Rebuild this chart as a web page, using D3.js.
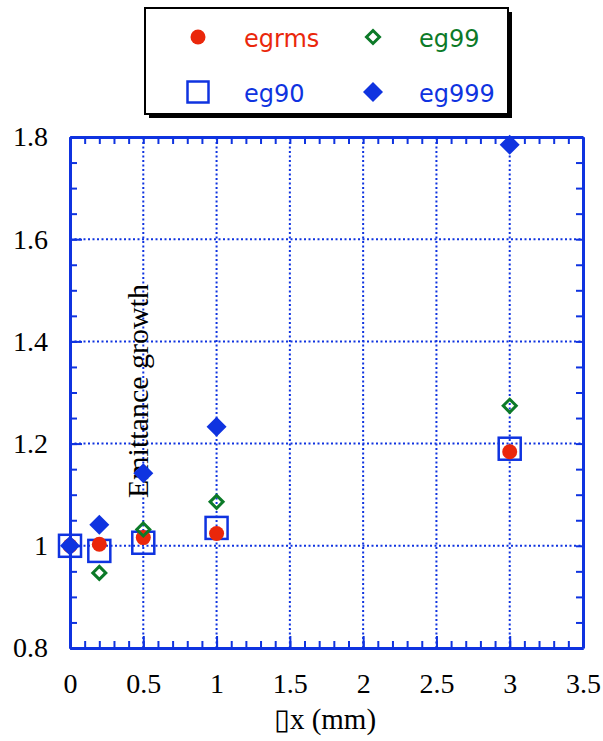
<!DOCTYPE html>
<html>
<head>
<meta charset="utf-8">
<script src="https://cdn.jsdelivr.net/npm/d3@7"></script>
<style>
  body { margin: 0; background: #fff; }
</style>
</head>
<body>
<figure style="margin:0"></figure>
<script>
// data
const xValues = [0, 0.2, 0.5, 1, 3];
const egrms = [1.0, 1.003, 1.016, 1.024, 1.184];
const eg90 = [1.0, 0.99, 1.006, 1.035, 1.19];
const eg99 = [1.0, 0.947, 1.032, 1.086, 1.274];
const eg999 = [1.0, 1.041, 1.142, 1.233, 1.785];

const xTicks = [0, 0.5, 1, 1.5, 2, 2.5, 3, 3.5];
const yTicks = [0.8, 1, 1.2, 1.4, 1.6, 1.8];
const xMinor = d3.range(0, 35.5, 1).map(d => d / 10);
const yMinor = d3.range(16, 36.5, 1).map(d => d / 20);

const blue = "#0f33e0";
const red = "#ea270b";
const green = "#0c7a28";

const width = 603, height = 741;
const x = d3.scaleLinear().domain([0, 3.5]).range([70, 583]);
const y = d3.scaleLinear().domain([0.8, 1.8]).range([648, 137]);

const svg = d3.select("figure").append("svg")
    .attr("width", width)
    .attr("height", height);

// dotted grid
svg.append("g").selectAll("line")
  .data(xTicks.filter(d => d > 0 && d < 3.5))
  .join("line")
    .attr("x1", d => x(d)).attr("x2", d => x(d))
    .attr("y1", y(0.8)).attr("y2", y(1.8))
    .attr("stroke", blue).attr("stroke-width", 2)
    .attr("stroke-dasharray", "2,2.5");
svg.append("g").selectAll("line")
  .data(yTicks.filter(d => d > 0.8 && d < 1.8))
  .join("line")
    .attr("y1", d => y(d)).attr("y2", d => y(d))
    .attr("x1", x(0)).attr("x2", x(3.5))
    .attr("stroke", blue).attr("stroke-width", 2)
    .attr("stroke-dasharray", "2,2.5");

// axes, ticks pointing inward
const styleAxis = g => {
  g.select(".domain").attr("stroke", blue).attr("stroke-width", 3);
  g.selectAll(".tick line").attr("stroke", blue).attr("stroke-width", 2);
  g.selectAll("text")
    .attr("fill", "#000")
    .style("font-family", "'Liberation Serif', 'Times New Roman', serif")
    .style("font-size", "28px");
};

const minorLen = 7, majorLen = 12;

// minor ticks
svg.append("g").attr("transform", `translate(0,${y(0.8)})`)
  .call(d3.axisBottom(x).tickValues(xMinor).tickSizeInner(-minorLen).tickSizeOuter(0).tickFormat(""))
  .call(styleAxis);
svg.append("g").attr("transform", `translate(0,${y(1.8)})`)
  .call(d3.axisTop(x).tickValues(xMinor).tickSizeInner(-minorLen).tickSizeOuter(0).tickFormat(""))
  .call(styleAxis);
svg.append("g").attr("transform", `translate(${x(0)},0)`)
  .call(d3.axisLeft(y).tickValues(yMinor).tickSizeInner(-minorLen).tickSizeOuter(0).tickFormat(""))
  .call(styleAxis);
svg.append("g").attr("transform", `translate(${x(3.5)},0)`)
  .call(d3.axisRight(y).tickValues(yMinor).tickSizeInner(-minorLen).tickSizeOuter(0).tickFormat(""))
  .call(styleAxis);

// major ticks with labels
svg.append("g").attr("transform", `translate(0,${y(0.8)})`)
  .call(d3.axisBottom(x).tickValues(xTicks).tickSizeInner(-majorLen).tickSizeOuter(0)
    .tickPadding(25).tickFormat(d => String(d)))
  .call(styleAxis);
svg.append("g").attr("transform", `translate(${x(0)},0)`)
  .call(d3.axisLeft(y).tickValues(yTicks).tickSizeInner(-majorLen).tickSizeOuter(0)
    .tickPadding(22).tickFormat(d => String(d)))
  .call(styleAxis);

// axis titles
svg.append("text")
    .attr("x", 325).attr("y", 729)
    .attr("text-anchor", "middle")
    .style("font-family", "'Liberation Serif', serif")
    .style("font-size", "29px")
    .text("\u25AFx (mm)");

svg.append("text")
    .attr("transform", "translate(148,391) rotate(-90)")
    .attr("text-anchor", "middle")
    .style("font-family", "'Liberation Serif', serif")
    .style("font-size", "30px")
    .text("Emittance growth");

// markers
const pts = vals => xValues.map((d, i) => ({x: d, y: vals[i]}));
const diamond = r => `M0,${-r}L${r},0L0,${r}L${-r},0Z`;

const drawSquare = (g, side) => g.append("rect")
    .attr("x", -side / 2).attr("y", -side / 2)
    .attr("width", side).attr("height", side)
    .attr("fill", "none").attr("stroke", blue).attr("stroke-width", 2.5);
const drawCircle = g => g.append("circle").attr("r", 7.5).attr("fill", red);
const drawOpenDiamond = g => g.append("path").attr("d", diamond(6.5))
    .attr("fill", "none").attr("stroke", green).attr("stroke-width", 3);
const drawFilledDiamond = g => g.append("path").attr("d", diamond(10)).attr("fill", blue);

const series = [
  {name: "eg90", vals: eg90, draw: g => drawSquare(g, 22)},
  {name: "egrms", vals: egrms, draw: drawCircle},
  {name: "eg99", vals: eg99, draw: drawOpenDiamond},
  {name: "eg999", vals: eg999, draw: drawFilledDiamond}
];

series.forEach(s => {
  svg.append("g").selectAll("g")
    .data(pts(s.vals))
    .join("g")
      .attr("transform", d => `translate(${x(d.x)},${y(d.y)})`)
      .each(function() { s.draw(d3.select(this)); });
});

// legend box with shadow
svg.append("rect").attr("x", 149).attr("y", 12).attr("width", 363).attr("height", 106).attr("fill", "#000");
svg.append("rect").attr("x", 145).attr("y", 8).attr("width", 363).attr("height", 106)
    .attr("fill", "#fff").attr("stroke", "#000").attr("stroke-width", 2);

const legendItems = [
  {label: "egrms", color: red, draw: drawCircle, col: 0, row: 0},
  {label: "eg99", color: green, draw: drawOpenDiamond, col: 1, row: 0},
  {label: "eg90", color: blue, draw: g => drawSquare(g, 21), col: 0, row: 1},
  {label: "eg999", color: blue, draw: drawFilledDiamond, col: 1, row: 1}
];
const colX = [198, 373], rowY = [37, 92];

const leg = svg.append("g").selectAll("g")
  .data(legendItems)
  .join("g")
    .attr("transform", d => `translate(${colX[d.col]},${rowY[d.row]})`)
    .each(function(d) { d.draw(d3.select(this)); });
leg.append("text")
    .attr("x", 46).attr("y", 10)
    .attr("fill", d => d.color)
    .style("font-family", "'DejaVu Sans', sans-serif")
    .style("font-size", "24px")
    .text(d => d.label);
</script>
</body>
</html>
